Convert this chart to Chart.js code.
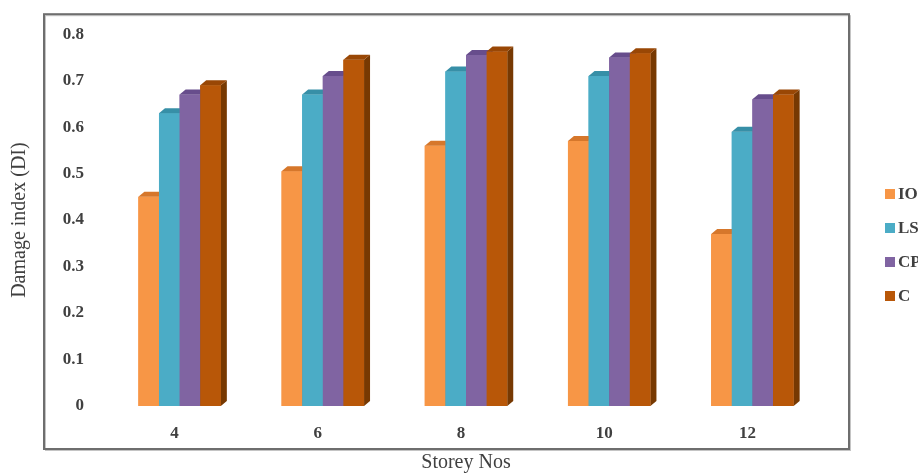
<!DOCTYPE html>
<html>
<head>
<meta charset="utf-8">
<script src="https://cdn.jsdelivr.net/npm/chart.js@4.4.1/dist/chart.umd.min.js"></script>
<style>
html, body { margin: 0; padding: 0; background: #fff; overflow: hidden; }
#wrap { position: relative; width: 918px; height: 475px; }
#legend { position: absolute; left: 885px; top: 186px; font: bold 17px "Liberation Serif", serif; color: #404040; white-space: nowrap; }
#legend div { height: 34px; line-height: 16px; }
#legend span.box { display: inline-block; width: 10px; height: 10px; margin-right: 3px; vertical-align: 0px; }
</style>
</head>
<body>
<div id="wrap">
    <canvas id="damageChart" width="918" height="475"></canvas>
    <div id="legend"></div>
</div>
<script>
const storeys = ["4", "6", "8", "10", "12"];
const seriesNames = ["IO", "LS", "CP", "C"];
const ioValues = [0.45, 0.505, 0.56, 0.57, 0.37];
const lsValues = [0.63, 0.67, 0.72, 0.71, 0.59];
const cpValues = [0.67, 0.71, 0.755, 0.75, 0.66];
const cValues = [0.69, 0.745, 0.763, 0.759, 0.67];
const yTicks = [0, 0.1, 0.2, 0.3, 0.4, 0.5, 0.6, 0.7, 0.8];

const frontColors = ["#F79646", "#4BACC6", "#8064A2", "#B85708"];
const topColors = ["#D6772B", "#378FA7", "#674D8C", "#994705"];
const sideColors = ["#B86A2C", "#2F7D92", "#5A437A", "#773902"];
const seriesValues = [ioValues, lsValues, cpValues, cValues];

const fontFamily = '"Liberation Serif", "Times New Roman", serif';
const textColor = "#404040";

// fake 3d: side + top faces, front redrawn so that the next bar covers the side
const bars3d = {
    id: "bars3d",
    afterDatasetsDraw(chart) {
        const ctx = chart.ctx;
        const D = 6, H = 5;
        ctx.save();
        chart.data.datasets.forEach((ds, i) => {
            const meta = chart.getDatasetMeta(i);
            meta.data.forEach(bar => {
                const {x, y, base, width} = bar.getProps(["x", "y", "base", "width"], true);
                const l = x - width / 2, r = x + width / 2;
                ctx.fillStyle = sideColors[i];
                ctx.beginPath();
                ctx.moveTo(r, base);
                ctx.lineTo(r + D, base - H);
                ctx.lineTo(r + D, y - H);
                ctx.lineTo(r, y);
                ctx.closePath();
                ctx.fill();
                ctx.fillStyle = frontColors[i];
                ctx.fillRect(l, y, width, base - y);
                ctx.fillStyle = topColors[i];
                ctx.beginPath();
                ctx.moveTo(l, y);
                ctx.lineTo(l + D, y - H);
                ctx.lineTo(r + D, y - H);
                ctx.lineTo(r, y);
                ctx.closePath();
                ctx.fill();
            });
        });
        ctx.restore();
    }
};

// outer box around plot + tick labels
const frameBox = {
    id: "frameBox",
    afterDraw(chart) {
        const {ctx, chartArea} = chart;
        const l = chartArea.left - 64, t = chartArea.top - 20;
        const r = chartArea.right + 25, b = chartArea.bottom + 43;
        ctx.save();
        ctx.strokeStyle = "#c4c4c4";
        ctx.lineWidth = 1;
        ctx.strokeRect(l + 1.5, t + 1.5, r - l, b - t);
        ctx.strokeStyle = "#6e6e6e";
        ctx.lineWidth = 2;
        ctx.strokeRect(l, t, r - l, b - t);
        ctx.restore();
    }
};

const ctx = document.getElementById("damageChart").getContext("2d");
new Chart(ctx, {
    type: "bar",
    data: {
        labels: storeys,
        datasets: seriesNames.map((name, i) => ({
            label: name,
            data: seriesValues[i],
            backgroundColor: frontColors[i],
            borderWidth: 0,
            categoryPercentage: 0.576,
            barPercentage: 1
        }))
    },
    options: {
        responsive: false,
        animation: false,
        layout: {
            padding: {left: 0, right: 94, top: 30, bottom: 0}
        },
        scales: {
            x: {
                grid: {display: false, drawTicks: false},
                border: {display: false},
                ticks: {
                    color: textColor,
                    font: {family: fontFamily, size: 17, weight: "bold"},
                    padding: 17,
                    labelOffset: -5
                },
                title: {
                    display: true,
                    text: "Storey Nos",
                    color: textColor,
                    font: {family: fontFamily, size: 20},
                    padding: {top: 0, bottom: 0}
                },
                afterFit(scale) {
                    scale.height = 69;
                }
            },
            y: {
                min: 0,
                max: 0.8,
                grid: {display: false, drawTicks: false},
                border: {display: false},
                afterBuildTicks(scale) {
                    scale.ticks = yTicks.map(v => ({value: v}));
                },
                ticks: {
                    color: textColor,
                    font: {family: fontFamily, size: 17, weight: "bold"},
                    padding: 24,
                    callback: v => (v === 0 ? "0" : v.toFixed(1))
                },
                title: {
                    display: true,
                    text: "Damage index (DI)",
                    color: textColor,
                    font: {family: fontFamily, size: 20},
                    padding: {top: 8, bottom: 0}
                },
                afterFit(scale) {
                    scale.width = 108;
                }
            }
        },
        plugins: {
            legend: {display: false},
            tooltip: {enabled: false}
        }
    },
    plugins: [bars3d, frameBox]
});

const legendEl = document.getElementById("legend");
seriesNames.forEach((name, i) => {
    const row = document.createElement("div");
    row.innerHTML = '<span class="box" style="background:' + frontColors[i] + '"></span>' + name;
    legendEl.appendChild(row);
});
</script>
</body>
</html>
